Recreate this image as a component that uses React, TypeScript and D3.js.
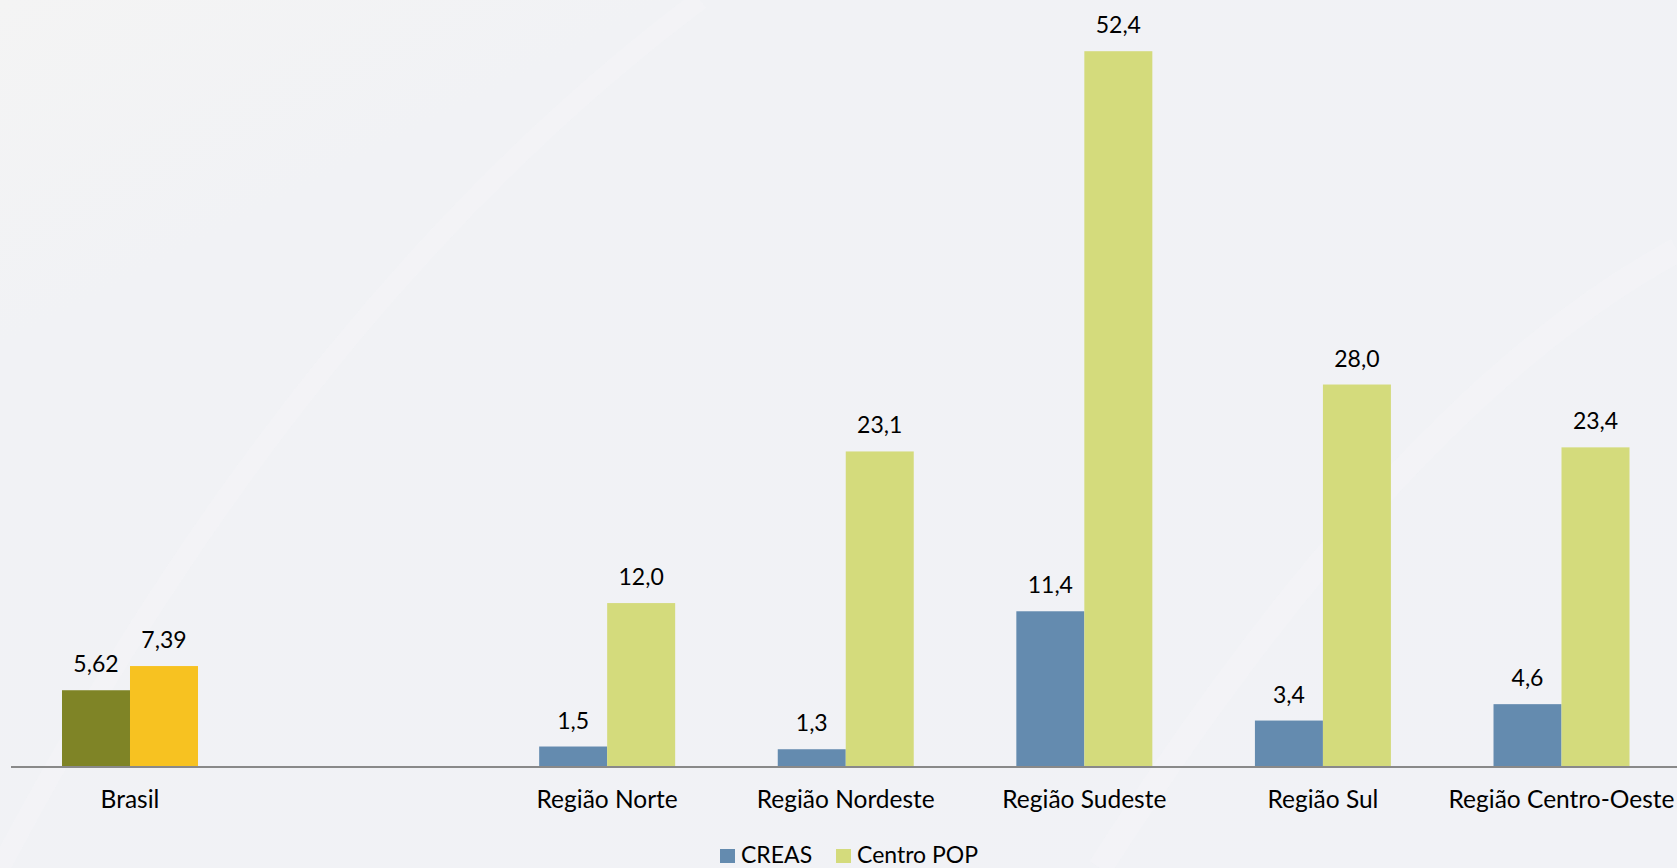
import React from "react";
import * as d3 from "d3";

const categories = ["Brasil", "", "Região Norte", "Região Nordeste", "Região Sudeste", "Região Sul", "Região Centro-Oeste"];
const seriesNames = ["CREAS", "Centro POP"];
const creasValues: (number | null)[] = [5.62, null, 1.5, 1.3, 11.4, 3.4, 4.6];
const centroPopValues: (number | null)[] = [7.39, null, 12.0, 23.1, 52.4, 28.0, 23.4];
const labelDecimals = [2, 0, 1, 1, 1, 1, 1];

const W = 1677;
const H = 868;
const FONT = "Lato, 'Open Sans', sans-serif";

const seriesColors = ["#648BAF", "#D4DB7C"];
const brasilColors = ["#7F8426", "#F7C221"];

const locale = d3.formatLocale({ decimal: ",", thousands: ".", grouping: [3], currency: ["R$", ""] });

export default function App() {
  const keys = categories.map((c, i) => c || `gap${i}`);
  const x0 = d3
    .scaleBand<string>()
    .domain(keys)
    .range([10.7, 1680.8])
    .paddingInner(0.43)
    .paddingOuter(0.215);
  const x1 = d3.scaleBand<string>().domain(seriesNames).range([0, x0.bandwidth()]);
  const y = d3.scaleLinear().domain([0, 55]).range([767, 767 - 55 * 13.66]);

  const bars: React.ReactNode[] = [];
  const labels: React.ReactNode[] = [];
  categories.forEach((cat, i) => {
    const vals = [creasValues[i], centroPopValues[i]];
    vals.forEach((v, s) => {
      if (v == null) return;
      const bx = (x0(keys[i]) ?? 0) + (x1(seriesNames[s]) ?? 0);
      const color = i === 0 ? brasilColors[s] : seriesColors[s];
      bars.push(
        <rect key={`b${i}-${s}`} x={bx} y={y(v)} width={x1.bandwidth()} height={y(0) - y(v)} fill={color} />
      );
      labels.push(
        <text
          key={`l${i}-${s}`}
          x={bx + x1.bandwidth() / 2}
          y={y(v) - 18}
          textAnchor="middle"
          fontSize={23}
          fill="#000"
        >
          {locale.format(`.${labelDecimals[i]}f`)(v)}
        </text>
      );
    });
  });

  const legendItems = [
    { name: seriesNames[0], x: 720, color: seriesColors[0] },
    { name: seriesNames[1], x: 836, color: seriesColors[1] },
  ];

  return (
    <svg
      width={W}
      height={H}
      style={{ position: "absolute", left: 0, top: 0, fontFamily: FONT }}
    >
      <defs>
        <linearGradient id="bg" x1="0" y1="0" x2="1" y2="1">
          <stop offset="0" stopColor="#F4F4F4" />
          <stop offset="0.2" stopColor="#F1F2F5" />
          <stop offset="1" stopColor="#F1F2F6" />
        </linearGradient>
      </defs>
      <rect width={W} height={H} fill="url(#bg)" />
      <path d={`M 0 868 Q 300 300 700 0`} stroke="#F5F6F8" strokeWidth={20} fill="none" opacity={0.35} />
      <path d={`M 1100 868 Q 1400 400 1677 250`} stroke="#F5F6F8" strokeWidth={25} fill="none" opacity={0.35} />
      {bars}
      <line x1={11} x2={W} y1={y(0)} y2={y(0)} stroke="#898989" strokeWidth={2} />
      {labels}
      {categories.map((cat, i) =>
        cat ? (
          <text
            key={`c${i}`}
            x={(x0(keys[i]) ?? 0) + x0.bandwidth() / 2}
            y={808}
            textAnchor="middle"
            fontSize={24.5}
            fill="#000"
          >
            {cat}
          </text>
        ) : null
      )}
      {legendItems.map((it) => (
        <g key={it.name}>
          <rect x={it.x} y={849} width={15} height={14} fill={it.color} />
          <text x={it.x + 21} y={863} fontSize={23} fill="#000">
            {it.name}
          </text>
        </g>
      ))}
    </svg>
  );
}
